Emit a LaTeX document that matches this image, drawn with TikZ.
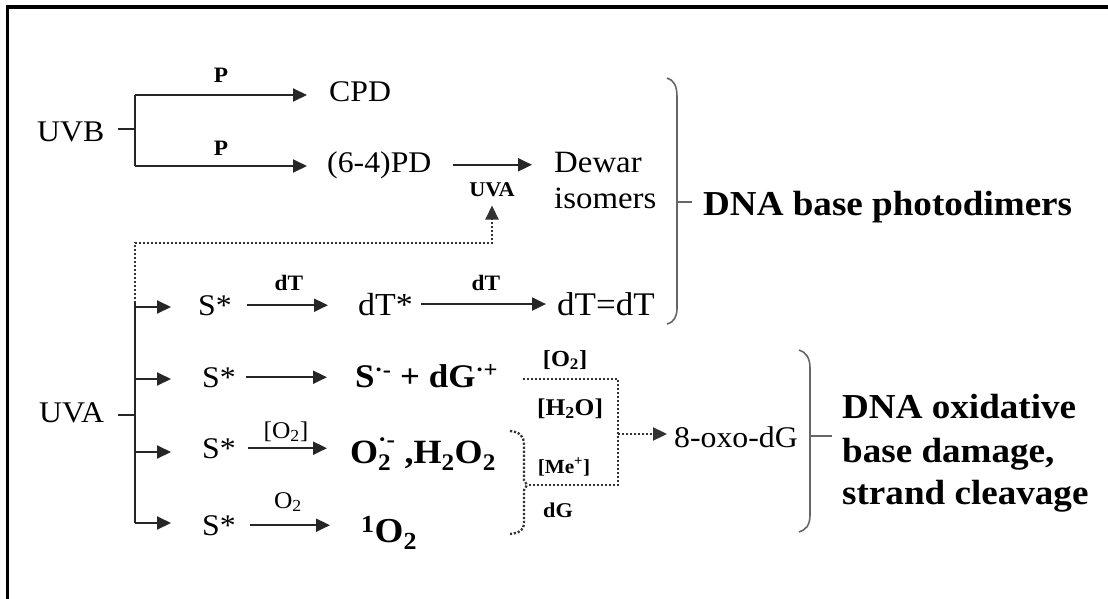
\documentclass[tikz,border=0pt]{standalone}
\usepackage{fontspec}
\setmainfont{Liberation Serif}[FakeStretch=1.06]
\usetikzlibrary{arrows.meta,calc}
\begin{document}
\begin{tikzpicture}[x=1pt,y=-1pt,
  rmf/.style={font=\fontsize{#1}{#1}\selectfont},
  bff/.style={font=\fontsize{#1}{#1}\selectfont\bfseries},
  txt/.style={inner sep=0pt, anchor=base west},
  lab/.style={inner sep=0pt, anchor=base},
  conn/.style={line width=2pt, draw=black!85},
  tip/.style={-{Triangle[length=14pt,width=13pt]}},
  arr/.style={conn, tip},
  dots/.style={line width=2.3pt, draw=black!80, dash pattern=on 2.2pt off 1.8pt},
  brace/.style={line width=1.6pt, draw=black!60},
]
\useasboundingbox (0,0) rectangle (1108,599);
% frame
\draw[line width=3.5pt] (7.5,599) -- (7.5,7) -- (1108,7);

% ---- UVB photodimers ----
\node[txt, rmf=30] (uvb) at (37,142) {UVB};
\node[txt, rmf=30] (cpd) at (329,102) {CPD};
\node[txt, rmf=30] (pd64) at (327,172) {(6-4)PD};
\node[lab, bff=22] (p1) at (221,83) {P};
\node[lab, bff=22] (p2) at (221,155) {P};
\node[txt, rmf=31] (dewar) at (554,172) {Dewar};
\node[txt, rmf=31] (isom) at (554,208) {isomers};
\node[lab, bff=21] (uvalbl) at (492,196) {UVA};
\node[txt, bff=35] (photo) at (703,215) {DNA base photodimers};

\coordinate (uvbj) at (135,129);
\coordinate (uvbt) at (135,95);
\coordinate (uvbb) at (135,166);
\draw[conn] (uvbj) -- ++(-17,0);
\draw[conn] (uvbt) -- (uvbb);
\draw[arr, shorten >=22pt] (uvbt) -- (uvbt -| cpd.west);
\draw[arr, shorten >=20pt] (uvbb) -- (uvbb -| pd64.west);
\draw[arr, shorten <=21pt, shorten >=22pt] (pd64.east) -- (pd64.east -| dewar.west);

% ---- UVA branches ----
\node[txt, rmf=30] (uva) at (39,422) {UVA};
\node[txt, rmf=30] (s1) at (198,315) {S*};
\node[lab, bff=22] (dt1) at (289,290) {dT};
\node[txt, rmf=32] (dts) at (358,315) {dT*};
\node[lab, bff=22] (dt2) at (486,290) {dT};
\node[txt, rmf=33] (dtdt) at (557,315) {dT=dT};

\node[txt, rmf=30] (s2) at (202,387) {S*};
\node[txt, bff=33] (rad) at (355,387) {S\textsuperscript{·-} + dG\textsuperscript{·+}};

\node[txt, rmf=30] (s3) at (202,458) {S*};
\node[lab, rmf=24] (o2a) at (286,438) {[O\textsubscript{2}]};
\node[txt, bff=34] (ros) at (350,463) {O\rlap{\textsubscript{2}}\raisebox{0.18em}{\textsuperscript{·-}}\ ,H\textsubscript{2}O\textsubscript{2}};

\node[txt, rmf=30] (s4) at (202,535) {S*};
\node[lab, rmf=24] (o2b) at (288,508) {O\textsubscript{2}};
\node[txt, bff=35] (singlet) at (361,542) {\textsuperscript{1}O\textsubscript{2}};

\coordinate (uvaj) at (135,415);
\coordinate (uvat) at (135,303);
\coordinate (uvab) at (135,523);
\coordinate (dcorner) at (135,243);
\coordinate (b1) at (135,307);
\coordinate (b2) at (135,379);
\coordinate (b3) at (135,452);
\draw[conn] (uvaj) -- ++(-17,0);
\draw[conn] (uvat) -- (uvab);
\draw[dots, tip, shorten >=9pt] (uvat) -- (dcorner) -| (uvalbl.south);
\draw[arr, shorten >=27pt] (b1) -- (b1 -| s1.west);
\draw[arr, shorten >=31pt] (b2) -- (b2 -| s2.west);
\draw[arr, shorten >=31pt] (b3) -- (b3 -| s3.west);
\draw[arr, shorten >=31pt] (uvab) -- (uvab -| s4.west);

\draw[arr, shorten <=15pt, shorten >=30pt] (s1.east) -- (s1.east -| dts.west);
\draw[arr, shorten <=8pt, shorten >=11pt] (dts.east) -- (dts.east -| dtdt.west);
\draw[arr, shorten <=10pt, shorten >=28pt] (s2.east) -- (s2.east -| rad.west);
\draw[arr, shorten <=12pt, shorten >=23pt] (s3.east) -- (s3.east -| ros.west);
\draw[arr, shorten <=14pt, shorten >=31pt] (s4.east) -- (s4.east -| singlet.west);

% ---- oxidative damage ----
\node[lab, bff=23] (o2c) at (565,366) {[O\textsubscript{2}]};
\node[lab, bff=24] (h2o) at (570,415) {[H\textsubscript{2}O]};
\node[lab, bff=20] (me) at (564,473) {[Me\textsuperscript{+}]};
\node[lab, bff=21] (dg) at (558,517) {dG};
\node[txt, rmf=30] (oxo) at (674,447) {8-oxo-dG};
\node[txt, bff=35] (ox1) at (842,418) {DNA oxidative};
\node[txt, bff=35] (ox2) at (842,462) {base damage,};
\node[txt, bff=35] (ox3) at (842,504) {strand cleavage};

\coordinate (btl) at (523,379);
\coordinate (btr) at (618,379);
\coordinate (bbr) at (618,485);
\coordinate (sbm) at (527,485);
\coordinate (bmid) at (618,434);
\draw[dots] (btl) -- (btr) -- (bbr) -- (sbm);
\draw[dots, tip, shorten >=7pt] (bmid) -- (bmid -| oxo.west);
% dotted bracket gathering the reactive oxygen species
\draw[dots] (510,431) .. controls (520,432) and (524,436) .. (524,445) -- (524,480) -- (sbm) -- (524,490) -- (524,524) .. controls (524,530) and (519,533) .. (510,534);

% braces
\draw[brace] (667,78) .. controls (674,80) and (677,86) .. (677,97) -- (677,308) .. controls (677,317) and (674,322) .. (667,324);
\draw[brace] (677,202) -- ++(15,0);
\draw[brace] (799,350) .. controls (806,352) and (810,358) .. (810,368) -- (810,515) .. controls (810,525) and (806,530) .. (799,532);
\draw[brace] (810,436) -- ++(22,0);
\end{tikzpicture}
\end{document}
